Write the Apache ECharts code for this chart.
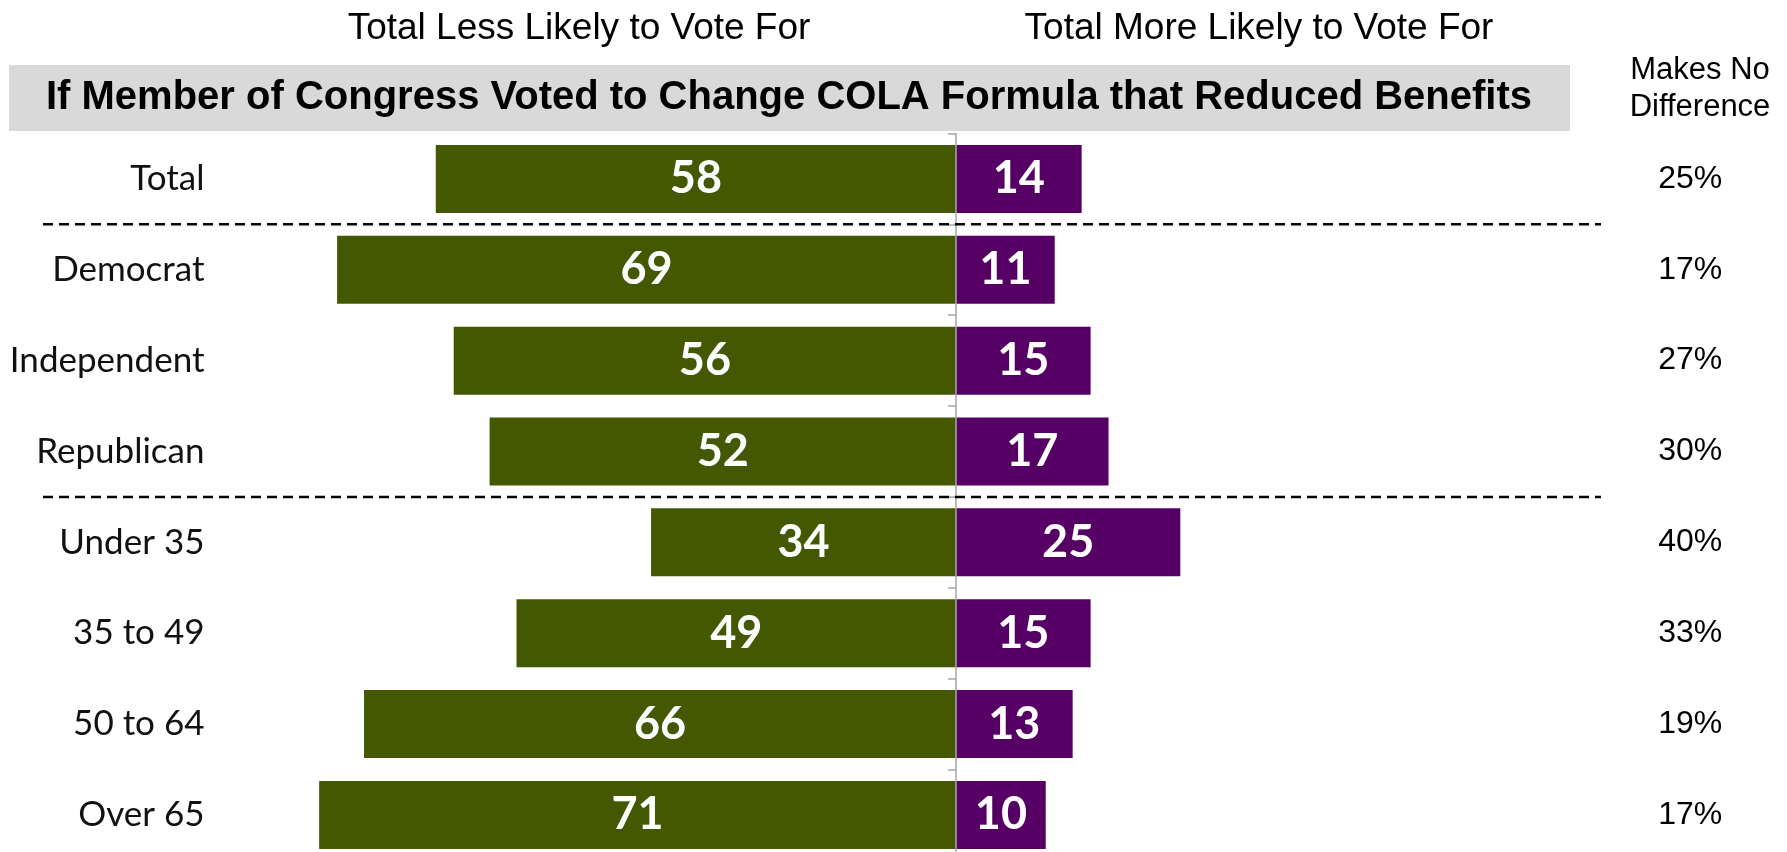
<!DOCTYPE html>
<html>
<head>
<meta charset="utf-8">
<script src="https://cdn.jsdelivr.net/npm/echarts@6/dist/echarts.min.js"></script>
<style>
html,body{margin:0;padding:0;background:#fff;overflow:hidden;}
#chart{width:1787px;height:880px;}
</style>
</head>
<body>
<div id="chart"></div>
<script>
const categories = ['Total', 'Democrat', 'Independent', 'Republican', 'Under 35', '35 to 49', '50 to 64', 'Over 65'];
const lessLikely = [58, 69, 56, 52, 34, 49, 66, 71];
const moreLikely = [14, 11, 15, 17, 25, 15, 13, 10];
const noDifference = [25, 17, 27, 30, 40, 33, 19, 17];
const separatorAfter = ['Total', 'Republican'];
const chartTitle = 'If Member of Congress Voted to Change COLA Formula that Reduced Benefits';
const leftHeader = 'Total Less Likely to Vote For';
const rightHeader = 'Total More Likely to Vote For';
const noDiffHeader = 'Makes No\nDifference';

const GREEN = '#435800';
const PURPLE = '#560066';

const chart = echarts.init(document.getElementById('chart'));

const barLabel = {
  show: true,
  position: 'inside',
  color: '#fff',
  fontFamily: "Lato, sans-serif",
  fontWeight: 'bold',
  fontSize: 45,
  formatter: p => Math.abs(p.value)
};

chart.setOption({
  animation: false,
  backgroundColor: '#fff',
  grid: { left: 220.5, top: 133.5, width: 1291.7, height: 726.8, containLabel: false },
  xAxis: {
    type: 'value', min: -82, max: 62,
    show: false, splitLine: { show: false }
  },
  yAxis: [
    {
      type: 'category', data: categories, inverse: true,
      axisLine: { show: false }, axisTick: { show: false },
      axisLabel: { margin: 16, fontSize: 35, fontFamily: 'Lato, sans-serif', color: '#111' }
    },
    {
      type: 'category', data: categories, inverse: true, position: 'left', z: 10,
      axisLine: { show: true, onZero: true, onZeroAxisIndex: 0, lineStyle: { color: '#a6a6a6', width: 1.5 } },
      axisTick: { show: true, length: 8, lineStyle: { color: '#a6a6a6', width: 1.5 } },
      axisLabel: { show: false }
    },
    {
      type: 'category', data: noDifference.map(v => v + '%'), inverse: true, position: 'right',
      axisLine: { show: false }, axisTick: { show: false },
      axisLabel: { margin: 178, align: 'center', fontSize: 32, fontFamily: "'Liberation Sans', Arial, sans-serif", color: '#000' }
    }
  ],
  series: [
    {
      name: 'Less likely', type: 'bar', yAxisIndex: 0, barWidth: 68, barGap: '-100%',
      data: lessLikely.map(v => -v),
      itemStyle: { color: GREEN },
      label: barLabel
    },
    {
      name: 'More likely', type: 'bar', yAxisIndex: 0, barWidth: 68, barGap: '-100%',
      data: moreLikely,
      itemStyle: { color: PURPLE },
      label: barLabel
    }
  ]
});

const graphics = [
  { type: 'rect', shape: { x: 9, y: 65, width: 1561, height: 66 }, style: { fill: '#d9d9d9' }, z: 0 },
  { type: 'text', x: 789, y: 98, z: 5, style: { text: chartTitle, fill: '#000', font: "bold 40px 'Liberation Sans', Arial, sans-serif", textAlign: 'center', textVerticalAlign: 'middle' } },
  { type: 'text', x: 579, y: 29, style: { text: leftHeader, fill: '#000', font: "37px 'Liberation Sans', Arial, sans-serif", textAlign: 'center', textVerticalAlign: 'middle' } },
  { type: 'text', x: 1259, y: 29, style: { text: rightHeader, fill: '#000', font: "37px 'Liberation Sans', Arial, sans-serif", textAlign: 'center', textVerticalAlign: 'middle' } },
  { type: 'text', x: 1700, y: 89, style: { text: noDiffHeader, fill: '#000', font: "31px 'Liberation Sans', Arial, sans-serif", lineHeight: 37, textAlign: 'center', textVerticalAlign: 'middle' } }
];
// Separator lines between category groups, positioned through the category axis scale
separatorAfter.forEach(cat => {
  const i = categories.indexOf(cat);
  const y1 = chart.convertToPixel({ yAxisIndex: 0 }, categories[i]);
  const y2 = chart.convertToPixel({ yAxisIndex: 0 }, categories[i + 1]);
  const y = (y1 + y2) / 2;
  graphics.push({
    type: 'line', z: 20,
    shape: { x1: 43, y1: y, x2: 1601, y2: y },
    style: { stroke: '#000', lineWidth: 2.5, lineDash: [10, 6] }
  });
});
chart.setOption({ graphic: graphics });
</script>
</body>
</html>
